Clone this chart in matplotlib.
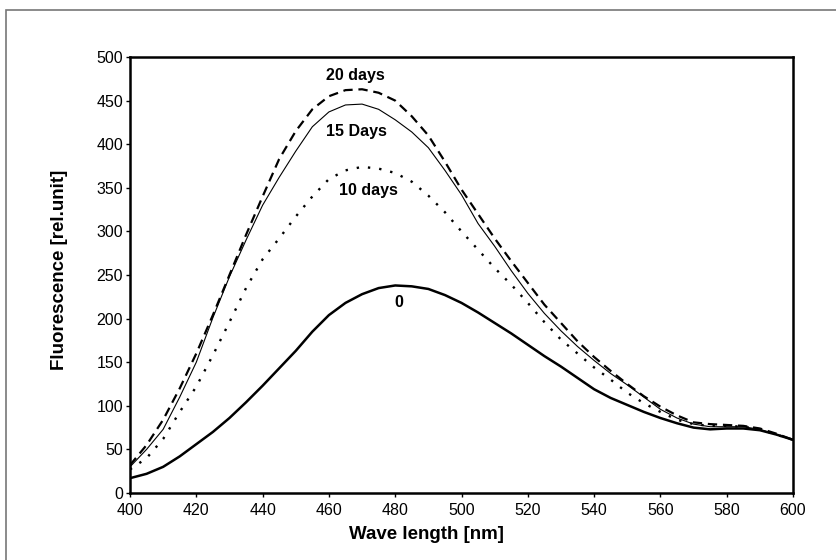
import numpy as np
import matplotlib
matplotlib.use('Agg')
import matplotlib.pyplot as plt
from matplotlib.patches import Rectangle

plt.rcParams['font.family'] = ['Liberation Sans', 'DejaVu Sans']

# wavelength grid (nm)
wave = list(range(400, 601, 5))

# fluorescence readings [rel.unit]
day0 = [17, 22, 30, 42, 56, 70, 86, 104, 123, 143, 163, 185, 204, 218, 228, 235,
        238, 237, 234, 227, 218, 207, 195, 183, 170, 157, 145, 132, 119, 109, 101,
        93, 86, 80, 75, 73, 74, 74, 72, 67, 61]
day10 = [27, 40, 62, 93, 122, 158, 196, 235, 268, 292, 317, 340, 360, 370, 374, 372,
         367, 357, 341, 322, 300, 279, 258, 239, 218, 196, 176, 160, 144, 130, 115,
         103, 93, 84, 79, 77, 77, 76, 73, 67, 61]
day15 = [30, 50, 73, 110, 150, 201, 248, 290, 330, 362, 392, 420, 437, 445, 446, 440,
         428, 414, 396, 370, 342, 309, 283, 255, 229, 206, 186, 168, 152, 137, 124,
         110, 96, 86, 79, 76, 76, 76, 73, 67, 61]
day20 = [32, 55, 84, 120, 160, 204, 250, 296, 340, 383, 415, 440, 455, 462, 463, 459,
         450, 432, 410, 380, 348, 320, 292, 266, 241, 216, 195, 174, 156, 140, 125,
         111, 99, 89, 81, 79, 78, 77, 74, 68, 61]

labels = ['20 days', '15 Days', '10 days', '0']
label_pos = [(468, 479), (468.4, 415), (471.8, 347), (481, 218)]

fig = plt.figure(figsize=(8.37, 5.60), dpi=100)
ax = fig.add_axes([130/837, 1-493/560, 663/837, 436/560])

ax.plot(wave, day0, color='black', lw=1.8, solid_joinstyle='round')
ax.plot(wave, day15, color='black', lw=0.8)
ax.plot(wave, day20, color='black', lw=1.6, dashes=(4.2, 2.6))
ax.plot(wave, day10, color='black', lw=1.7, dashes=(1.0, 3.8))

for txt, (x, y) in zip(labels, label_pos):
    ax.text(x, y, txt, ha='center', va='center', fontsize=11.5, fontweight='bold')

ax.set_xlim(400, 600)
ax.set_ylim(0, 500)
ax.set_xticks(range(400, 601, 20))
ax.set_yticks(range(0, 501, 50))
for s in ax.spines.values():
    s.set_linewidth(1.8)
ax.tick_params(direction='out', length=3, width=1, labelsize=11.5, pad=2)
ax.tick_params(axis='x', pad=4.5)

ax.set_xlabel('Wave length [nm]', fontsize=13.5, fontweight='bold')
ax.set_ylabel('Fluorescence [rel.unit]', fontsize=13.5, fontweight='bold')
ax.xaxis.set_label_coords(0.447, -0.076)
ax.yaxis.set_label_coords(-0.094, 0.511)

# thin grey frame around the figure
fig.patches.append(Rectangle((6/837, -0.05), 1.0, 1.05 - 10/560, transform=fig.transFigure,
                             fill=False, edgecolor='#777777', lw=1.2))

fig.savefig('out.png', dpi=100)
